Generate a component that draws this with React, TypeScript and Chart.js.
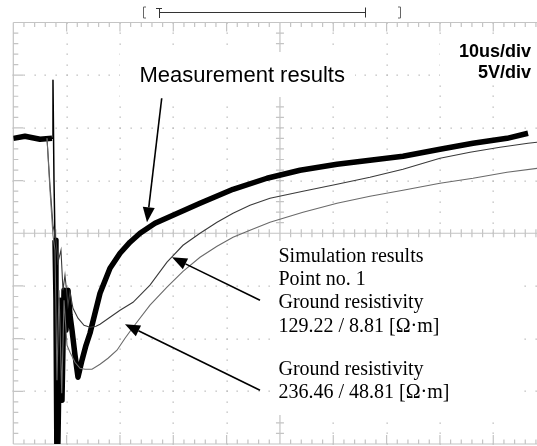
import React, { useEffect, useRef } from "react";
import { Chart, registerables } from "chart.js";

Chart.register(...registerables);

// Time in microseconds from the left edge of the screen, voltage in volts (0 V at screen centre)
const measT = [0, 2.19, 5.01, 7.26, 7.44, 7.63, 7.82, 8.0, 8.19, 8.38, 8.76, 9.13, 9.51, 9.88, 10.26, 10.63, 11.01, 11.57, 12.13, 12.88, 13.63, 14.38, 15.32, 16.26, 18.13, 20.01, 21.88, 23.76, 26.57, 29.94, 35.01, 41.2, 47.57, 53.76, 60.7, 66.88, 73.07, 80.01, 86.2, 92.58, 96.52];
const measV = [9.0, 9.2, 8.92, 9.01, 14.52, 5.03, -0.66, -6.36, -22.5, -19.64, -6.36, -15.84, -5.41, -9.2, -5.41, -7.78, -9.2, -11.57, -13.66, -12.05, -10.63, -9.49, -7.59, -5.69, -3.32, -1.9, -0.85, 0, 0.95, 1.71, 2.85, 4.17, 5.22, 5.98, 6.55, 6.93, 7.31, 7.97, 8.54, 9.01, 9.49];

const sim1T = [6.32, 6.88, 7.44, 8.0, 8.38, 8.94, 9.32, 9.69, 10.26, 10.63, 11.19, 12.13, 13.26, 14.38, 15.51, 16.26, 18.13, 20.01, 22.45, 25.63, 28.82, 31.82, 35.01, 38.2, 41.2, 44.38, 48.13, 54.32, 60.7, 66.88, 73.07, 80.01, 85.64, 91.26, 96.52, 99.7];
const sim1V = [9.01, 4.55, 0.76, -0.66, -2.75, -1.61, -5.41, -3.98, -6.83, -5.6, -7.12, -8.06, -8.73, -8.92, -8.82, -8.63, -7.97, -7.31, -6.55, -4.93, -2.75, -1.14, 0, 1.04, 1.9, 2.66, 3.32, 3.98, 4.65, 5.31, 6.07, 7.12, 7.69, 8.16, 8.54, 8.73];

const sim2T = [6.32, 6.88, 7.44, 7.82, 8.19, 8.57, 9.08, 9.51, 10.07, 10.63, 11.57, 12.51, 13.44, 14.76, 16.26, 17.76, 19.44, 20.95, 22.45, 25.63, 28.82, 31.82, 35.01, 38.2, 41.2, 44.38, 48.13, 54.32, 60.7, 66.88, 73.07, 80.01, 86.2, 92.58, 99.7];
const sim2V = [9.01, 4.08, -0.19, -1.61, -13.95, -5.41, -15.18, -6.36, -10.63, -11.29, -12.24, -12.81, -12.9, -12.9, -12.43, -11.86, -11.1, -9.96, -8.92, -6.83, -5.12, -3.61, -2.28, -1.23, -0.38, 0.28, 1.04, 1.99, 2.85, 3.51, 4.08, 4.74, 5.22, 5.79, 6.26];

const timeDiv = 10; // us/div
const voltDiv = 5; // V/div
const xMax = 98.2;

const simLines1 = ["Simulation results", "Point no. 1", "Ground resistivity", "129.22 / 8.81 [Ω·m]"];
const simLines2 = ["Ground resistivity", "236.46 / 48.81 [Ω·m]"];

// arrows: [startT, startV, tipT, tipV]
const arrows = [
  [27.83, 12.81, 25.07, 1.04],
  [46.26, -6.36, 29.76, -2.28],
  [46.26, -14.9, 20.94, -8.63],
];

const pts = (t: number[], v: number[]) => t.map((x, i) => ({ x, y: v[i] }));

const scopePlugin = {
  id: "scope",
  beforeDatasetsDraw(chart: any) {
    const { ctx, chartArea, scales } = chart;
    const xs = scales.x, ys = scales.y;
    const L = chartArea.left, T = chartArea.top, B = chartArea.bottom;
    const R = xs.getPixelForValue(100);
    ctx.save();
    ctx.fillStyle = "#fff";
    ctx.fillRect(0, 0, chart.width, chart.height);
    const gc = "#c4c4c4";
    // dotted grid
    ctx.fillStyle = "#b8b8b8";
    for (let k = 1; k < 10; k++) {
      if (k === 5) continue;
      const px = xs.getPixelForValue(k * timeDiv);
      for (let v = -20; v <= 20; v++) {
        const py = ys.getPixelForValue(v);
        ctx.fillRect(Math.round(px) - 0.5, Math.round(py) - 0.5, 1.3, 1.3);
      }
    }
    for (let j = -3; j <= 3; j++) {
      if (j === 0) continue;
      const py = ys.getPixelForValue(j * voltDiv);
      for (let t = 0; t <= 100; t += 2) {
        const px = xs.getPixelForValue(t);
        ctx.fillRect(Math.round(px) - 0.5, Math.round(py) - 0.5, 1.3, 1.3);
      }
    }
    ctx.strokeStyle = gc;
    ctx.lineWidth = 1.2;
    ctx.beginPath();
    // frame
    ctx.moveTo(L, T); ctx.lineTo(R, T);
    ctx.moveTo(L, B); ctx.lineTo(R, B);
    ctx.moveTo(L, T); ctx.lineTo(L, B);
    // centre cross
    const cx = xs.getPixelForValue(50), cy = ys.getPixelForValue(0);
    ctx.moveTo(cx, T); ctx.lineTo(cx, B);
    ctx.moveTo(L, cy); ctx.lineTo(R, cy);
    // ticks on horizontal lines
    for (let t = 0; t <= 100; t += 2) {
      const px = xs.getPixelForValue(t);
      const major = t % 10 === 0;
      ctx.moveTo(px, T); ctx.lineTo(px, T + (major ? 9 : 4.5));
      ctx.moveTo(px, B); ctx.lineTo(px, B - (major ? 9 : 4.5));
      ctx.moveTo(px, cy - 4); ctx.lineTo(px, cy + 4);
    }
    for (let v = -20; v <= 20; v++) {
      const py = ys.getPixelForValue(v);
      const major = v % 5 === 0;
      ctx.moveTo(L, py); ctx.lineTo(L + (major ? 10 : 5), py);
      ctx.moveTo(cx - 4, py); ctx.lineTo(cx + 4, py);
    }
    ctx.stroke();
    // white label backgrounds
    ctx.fillStyle = "#fff";
    ctx.fillRect(120, 52, 235, 45);
    ctx.fillRect(440, 36, 97, 48);
    ctx.fillRect(272, 241, 251, 174);
    // trigger / record bar at top
    ctx.strokeStyle = "#666";
    ctx.lineWidth = 1;
    ctx.beginPath();
    ctx.moveTo(146, 7); ctx.lineTo(143.5, 7); ctx.lineTo(143.5, 18); ctx.lineTo(146, 18);
    ctx.moveTo(398, 7); ctx.lineTo(400.5, 7); ctx.lineTo(400.5, 18); ctx.lineTo(398, 18);
    ctx.stroke();
    ctx.strokeStyle = "#333";
    ctx.beginPath();
    ctx.moveTo(156, 8.5); ctx.lineTo(162, 8.5);
    ctx.moveTo(159.5, 8.5); ctx.lineTo(159.5, 18);
    ctx.moveTo(159.5, 12.5); ctx.lineTo(365, 12.5);
    ctx.moveTo(365.5, 7.5); ctx.lineTo(365.5, 17.5);
    ctx.stroke();
    ctx.restore();
  },
  afterDatasetsDraw(chart: any) {
    const { ctx, scales } = chart;
    const xs = scales.x, ys = scales.y;
    ctx.save();
    ctx.fillStyle = "#000";
    ctx.textBaseline = "alphabetic";
    ctx.font = "22px 'Liberation Sans', Arial, sans-serif";
    ctx.textAlign = "left";
    ctx.fillText("Measurement results", 139.5, 82);
    ctx.font = "bold 18px 'Liberation Sans', Arial, sans-serif";
    ctx.textAlign = "right";
    ctx.fillText("10us/div", 531, 57);
    ctx.fillText("5V/div", 531, 78);
    ctx.textAlign = "left";
    ctx.font = "20px 'Liberation Serif', 'Times New Roman', serif";
    simLines1.forEach((s, i) => ctx.fillText(s, 278.5, 261.7 + i * 23.3));
    simLines2.forEach((s, i) => ctx.fillText(s, 278.5, 375 + i * 23.3));
    // arrows
    ctx.strokeStyle = "#000";
    ctx.lineWidth = 1.6;
    arrows.forEach(([t0, v0, t1, v1]) => {
      const x0 = xs.getPixelForValue(t0), y0 = ys.getPixelForValue(v0);
      const x1 = xs.getPixelForValue(t1), y1 = ys.getPixelForValue(v1);
      const a = Math.atan2(y1 - y0, x1 - x0);
      const hl = 15, hw = 6;
      const bx = x1 - hl * Math.cos(a), by = y1 - hl * Math.sin(a);
      ctx.beginPath();
      ctx.moveTo(x0, y0); ctx.lineTo(bx, by);
      ctx.stroke();
      ctx.beginPath();
      ctx.moveTo(x1, y1);
      ctx.lineTo(bx + hw * Math.sin(a), by - hw * Math.cos(a));
      ctx.lineTo(bx - hw * Math.sin(a), by + hw * Math.cos(a));
      ctx.closePath();
      ctx.fill();
    });
    ctx.restore();
  },
};

export default function App() {
  const ref = useRef<HTMLCanvasElement>(null);
  useEffect(() => {
    if (!ref.current) return;
    const chart = new Chart(ref.current, {
      type: "scatter",
      data: {
        datasets: [
          { data: pts(sim2T, sim2V), showLine: true, borderColor: "#6a6a6a", borderWidth: 1.1, pointRadius: 0, tension: 0 },
          { data: pts(sim1T, sim1V), showLine: true, borderColor: "#3a3a3a", borderWidth: 1.1, pointRadius: 0, tension: 0 },
          {
            data: pts(measT, measV), showLine: true, borderColor: "#000", borderWidth: 5.5, pointRadius: 0, tension: 0, borderJoinStyle: "round",
            segment: { borderWidth: (c: any) => (c.p0DataIndex >= 3 && c.p0DataIndex <= 5 ? 1.5 : 5.5) },
          },
        ],
      },
      options: {
        animation: false,
        responsive: false,
        devicePixelRatio: 1,
        layout: { padding: { left: 13.3, top: 22.5, right: 0, bottom: 2 } },
        plugins: { legend: { display: false }, tooltip: { enabled: false } },
        scales: {
          x: { type: "linear", min: 0, max: xMax, display: false },
          y: { type: "linear", min: -20, max: 20, display: false },
        },
      },
      plugins: [scopePlugin],
    } as any);
    return () => chart.destroy();
  }, []);
  return (
    <div style={{ position: "absolute", left: 0, top: 0, width: 537, height: 446, background: "#fff" }}>
      <canvas ref={ref} width={537} height={446} />
    </div>
  );
}
